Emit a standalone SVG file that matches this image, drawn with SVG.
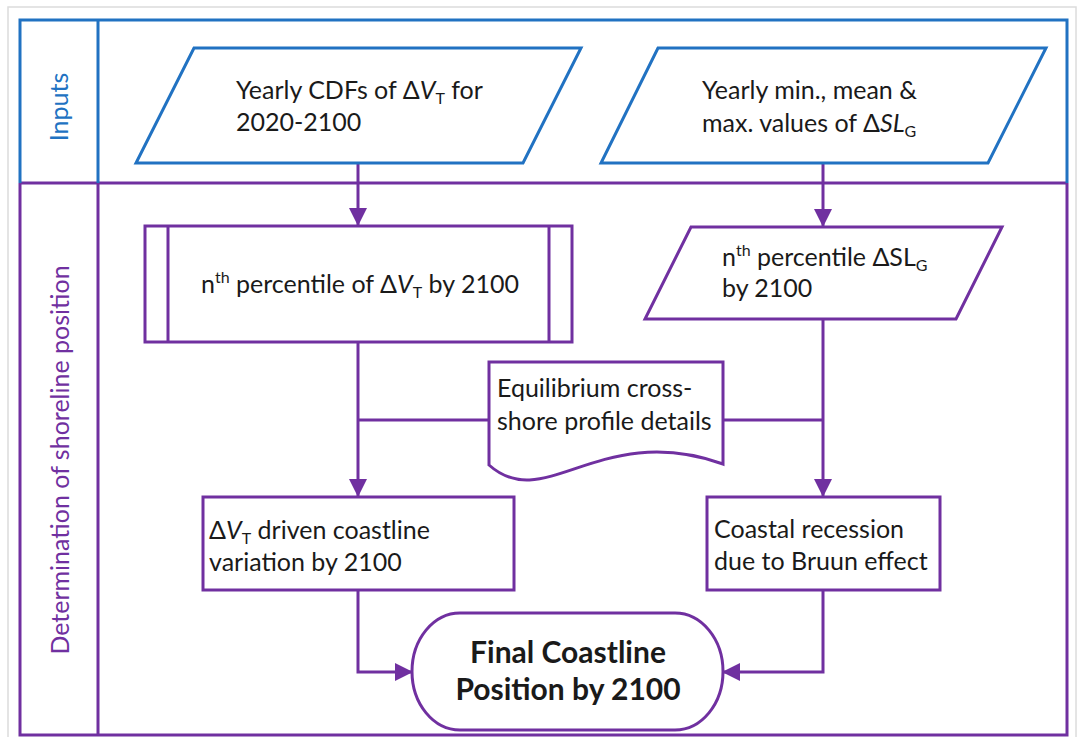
<svg xmlns="http://www.w3.org/2000/svg" width="1078" height="737" viewBox="0 0 1078 737">
<style>
.blue{fill:none;stroke:#2172c2;stroke-width:3}
.pur{fill:none;stroke:#7030a0;stroke-width:3}
.node{fill:#fff;stroke:#7030a0;stroke-width:3}
.bnode{fill:#fff;stroke:#2172c2;stroke-width:3}
.t{font-family:Lato,"Liberation Sans",sans-serif;font-size:25px;fill:#1a1a1a}
.tb{font-family:Lato,"Liberation Sans",sans-serif;font-size:30px;font-weight:bold;fill:#1a1a1a}
.lab{font-family:Lato,"Liberation Sans",sans-serif;font-size:25px}
.conn{fill:none;stroke:#7030a0;stroke-width:3}
</style>
<defs>
<marker id="ah" markerUnits="userSpaceOnUse" markerWidth="18" markerHeight="18" viewBox="0 0 18 18" refX="17" refY="9" orient="auto">
<path d="M0,0 L18,9 L0,18 Z" fill="#7030a0"/>
</marker>
</defs>
<rect x="8" y="7" width="1068" height="740" fill="#fff" stroke="#dcdcdc" stroke-width="1.5"/>
<g id="frame">
<path class="pur" d="M20,183 H1067 M20,183 V735 H1067 V183 M98,183 V735"/>
<path class="blue" d="M20,183 V20 H1067 V183 M98,20 V183"/>
<text class="lab" fill="#2172c2" text-anchor="middle" transform="translate(68,107) rotate(-90)">Inputs</text>
<text class="lab" fill="#7030a0" text-anchor="middle" transform="translate(69,460) rotate(-90)">Determination of shoreline position</text>
</g>
<g id="connectors">
<path class="conn" d="M358,163 V225" marker-end="url(#ah)"/>
<path class="conn" d="M823,163 V226" marker-end="url(#ah)"/>
<path class="conn" d="M358,342 V496" marker-end="url(#ah)"/>
<path class="conn" d="M823,319 V496" marker-end="url(#ah)"/>
<path class="conn" d="M489,420 H358"/>
<path class="conn" d="M723,420 H823"/>
<path class="conn" d="M358,590 V672 H412" marker-end="url(#ah)"/>
<path class="conn" d="M823,590 V672 H723" marker-end="url(#ah)"/>
</g>
<g id="in1">
<polygon class="bnode" points="194,48 581,48 523,163 136,163"/>
<text class="t" x="236" y="99">Yearly CDFs of Δ<tspan font-style="italic">V</tspan><tspan font-size="16" dy="5">T</tspan><tspan dy="-5"> for</tspan></text>
<text class="t" x="236" y="131">2020-2100</text>
</g>
<g id="in2">
<polygon class="bnode" points="658,48 1046,48 988,163 601,163"/>
<text class="t" x="702" y="99">Yearly min., mean &amp;</text>
<text class="t" x="702" y="132">max. values of Δ<tspan font-style="italic">SL</tspan><tspan font-size="16" dy="5">G</tspan></text>
</g>
<g id="sub1">
<rect class="node" x="145" y="226" width="427" height="116"/>
<path class="pur" d="M168,226 V342 M549,226 V342"/>
<text class="t" x="201" y="293">n<tspan font-size="16" dy="-10">th</tspan><tspan dy="10"> percentile of Δ</tspan><tspan font-style="italic">V</tspan><tspan font-size="16" dy="5">T</tspan><tspan dy="-5"> by 2100</tspan></text>
</g>
<g id="pct">
<polygon class="node" points="691,227 1002,227 956,319 645,319"/>
<text class="t" x="722" y="266">n<tspan font-size="16" dy="-10">th</tspan><tspan dy="10"> percentile ΔSL</tspan><tspan font-size="16" dy="5">G</tspan></text>
<text class="t" x="722" y="297">by 2100</text>
</g>
<g id="doc">
<path class="node" d="M489,362 H723 V464 C600,420 545,515 489,465 Z"/>
<text class="t" x="497" y="397">Equilibrium cross-</text>
<text class="t" x="497" y="430">shore profile details</text>
</g>
<g id="var">
<rect class="node" x="203" y="497" width="311" height="93"/>
<text class="t" x="209" y="539">Δ<tspan font-style="italic">V</tspan><tspan font-size="16" dy="5">T</tspan><tspan dy="-5"> driven coastline</tspan></text>
<text class="t" x="209" y="571">variation by 2100</text>
</g>
<g id="bruun">
<rect class="node" x="707" y="497" width="233" height="93"/>
<text class="t" x="714" y="538">Coastal recession</text>
<text class="t" x="714" y="570">due to Bruun effect</text>
</g>
<g id="final">
<path class="node" d="M460,613 H675 A48,58.5 0 0 1 675,730 H460 A48,58.5 0 0 1 460,613 Z"/>
<text class="tb" x="568" y="663" text-anchor="middle">Final Coastline</text>
<text class="tb" x="568" y="700" text-anchor="middle">Position by 2100</text>
</g>
</svg>
